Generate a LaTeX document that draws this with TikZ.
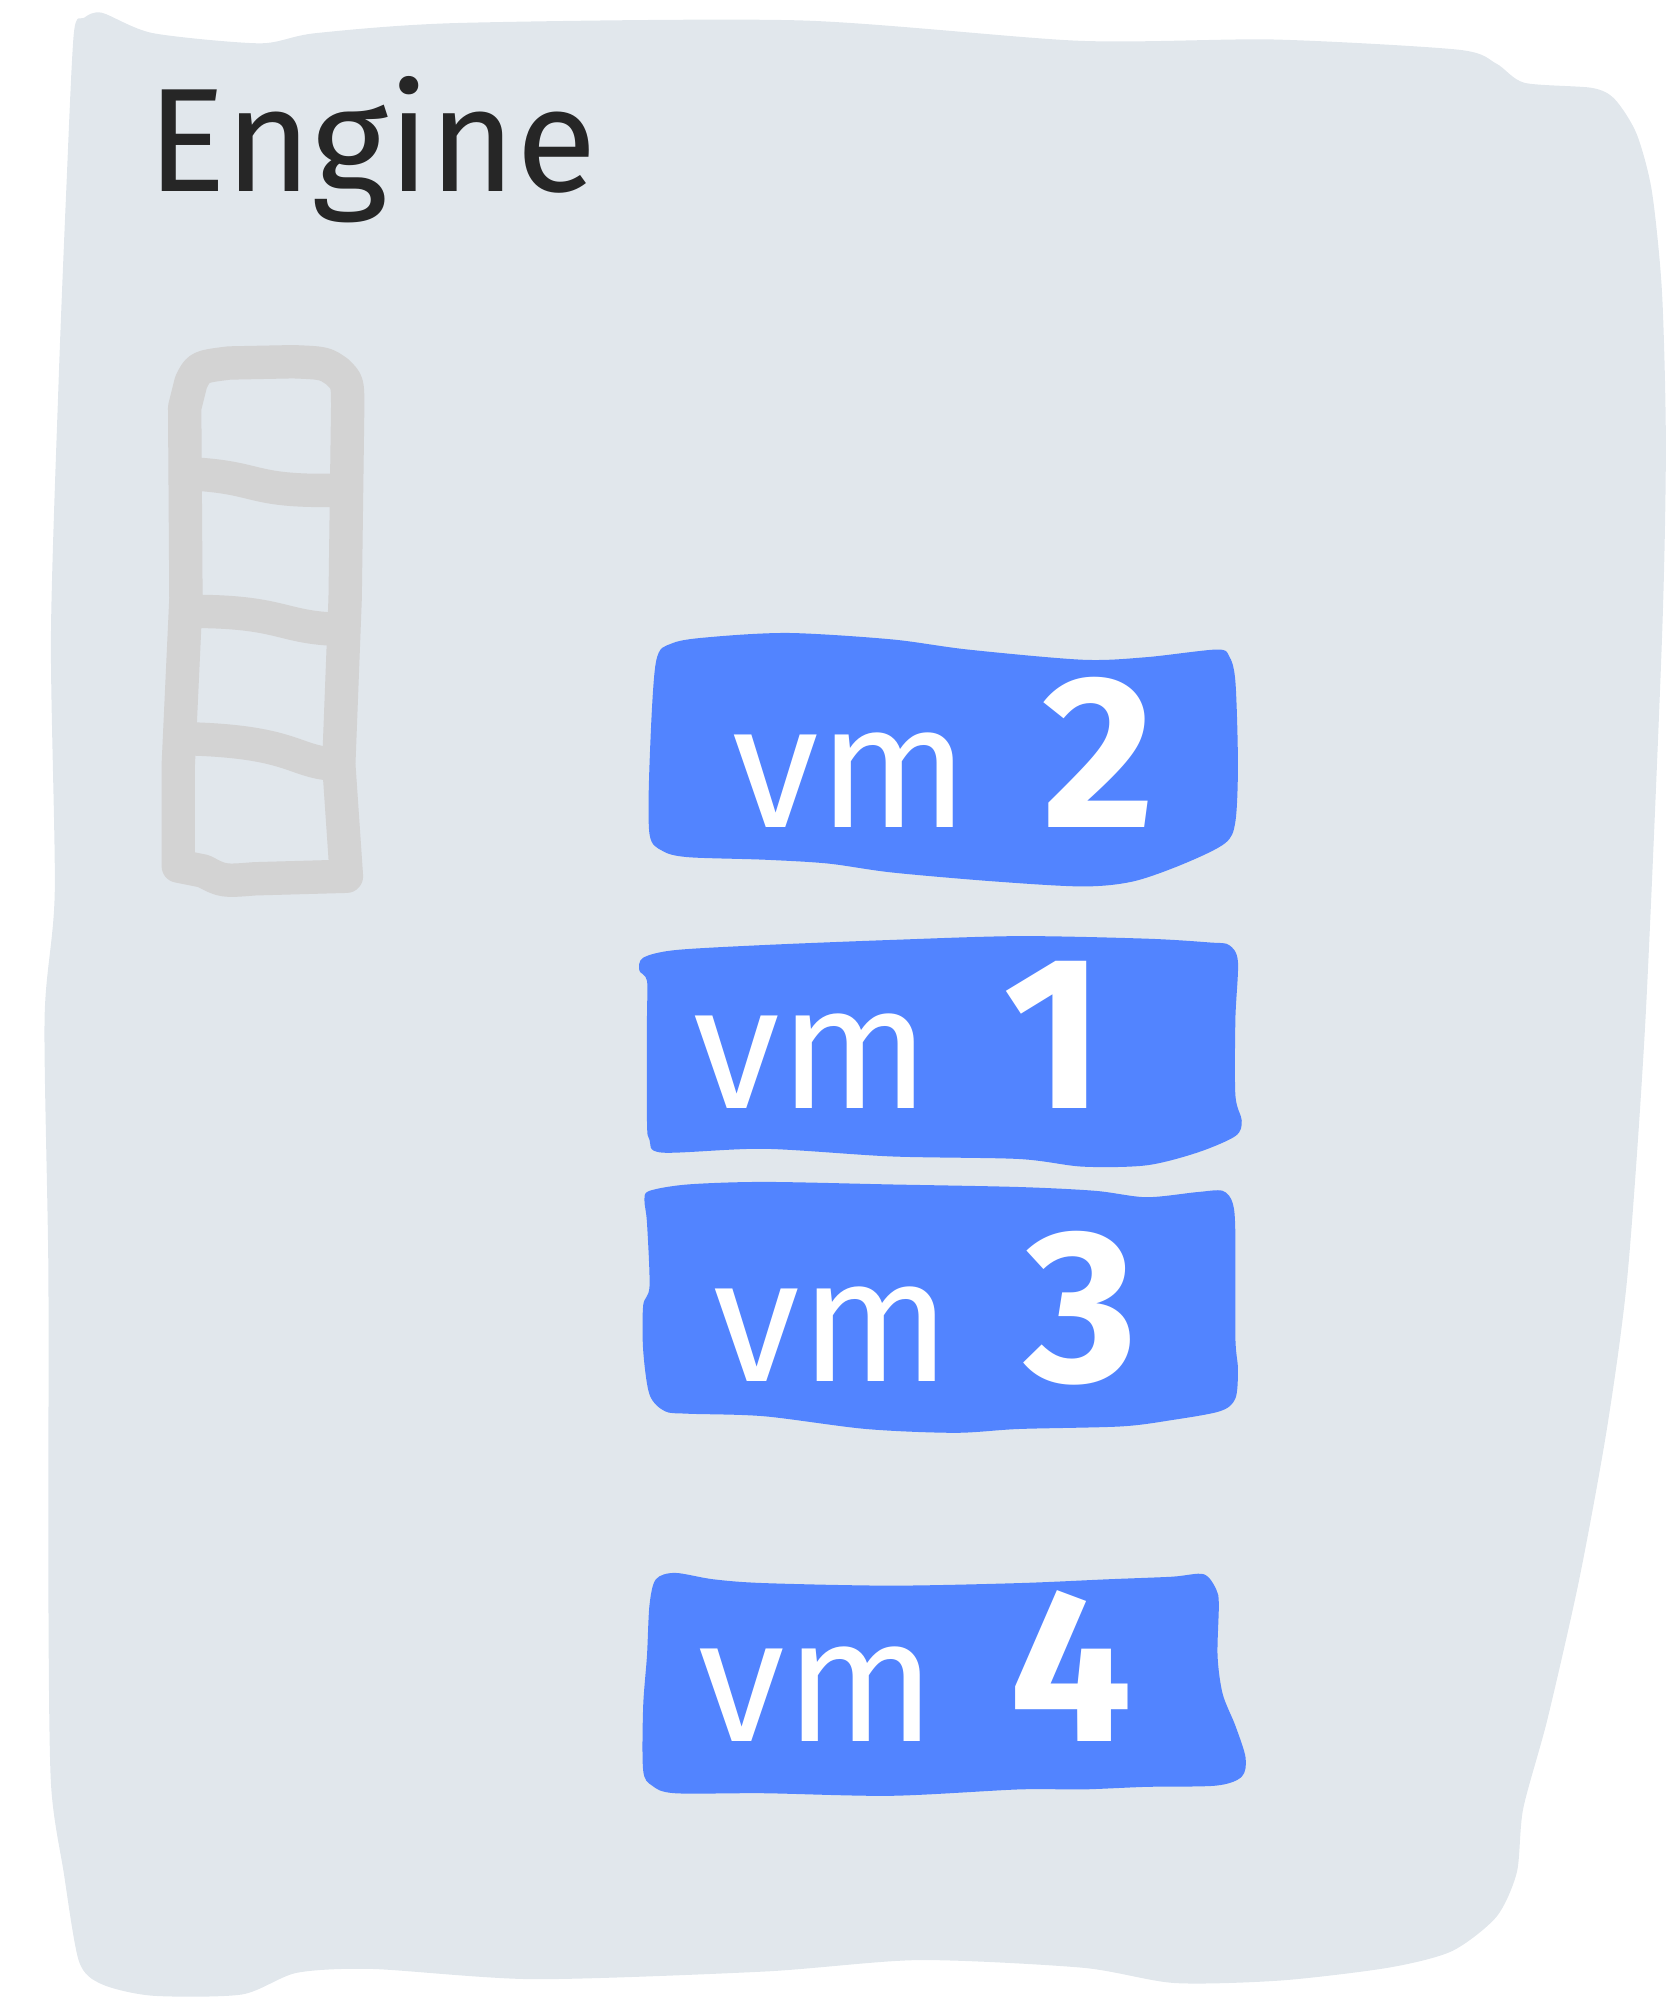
\documentclass[tikz,border=0pt]{standalone}
\usepackage{fontspec}
\setmainfont{Fira Sans}
\definecolor{panel}{HTML}{E1E7EC}
\definecolor{ladder}{HTML}{D3D3D3}
\definecolor{vmblue}{HTML}{5284FF}
\definecolor{ink}{HTML}{262626}
\tikzset{
  vmbox/.style={fill=vmblue, draw=none},
  vmtext/.style={text=white, font=\fontsize{50}{58}\selectfont, anchor=base},
  ladderline/.style={draw=ladder, line width=9.5pt, line cap=round, line join=round},
  title/.style={text=ink, font=\fontsize{42}{50}\selectfont, anchor=base west}
}
\newcommand{\vmlabel}[1]{vm\hspace{0.42em}{\fontsize{62}{70}\selectfont\bfseries #1}}
\begin{document}
\begin{tikzpicture}[x=0.012738cm, y=-0.012738cm]
\useasboundingbox (0,0) rectangle (1315,1568);
% panel
\fill[panel] plot[smooth cycle, tension=0.45] coordinates {
 (58,26) (66,14) (80,10) (120,26) (204,34) (248,26) (361,18) (628,16) (847,32) (1000,31) (1145,39) (1175,50) (1197,65) (1250,69) (1268,78) (1285,105) (1297,150) (1305,230) (1308,350) (1305,500) (1292,800) (1278,1000) (1262,1120) (1240,1240) (1215,1350) (1196,1420) (1191,1470) (1175,1505) (1140,1532) (1090,1545) (1006,1555) (922,1557) (850,1545) (721,1539) (600,1548) (419,1554) (293,1546) (233,1549) (190,1566) (120,1567) (80,1558) (62,1540) (50,1470) (40,1400) (38,1250) (38,1000) (35,800) (43,700) (40,500) (46,300) (52,150)};
% title
\node[title] (engine) at (106,150) {Engine};
% ladder
\draw[ladderline] (150,300) .. controls (156,288) .. (180,285) -- (230,284) .. controls (255,285) .. (265,292) .. controls (273,300) .. (273,320) -- (271,470) -- (266,600) -- (272,688) -- (200,690) .. controls (175,692) .. (160,684) -- (140,680) -- (140,600) -- (146,470) -- (145,320) -- cycle;
\draw[ladderline] (150,372) .. controls (205,375) and (195,386) .. (262,385);
\draw[ladderline] (150,480) .. controls (220,480) and (220,492) .. (262,494);
\draw[ladderline] (145,580) .. controls (230,582) and (230,598) .. (262,600);
% vm boxes
\fill[vmbox] plot[smooth cycle, tension=0.5] coordinates {
 (515,520) (528,505) (560,500) (620,497) (700,502) (760,510) (850,518) (900,516) (955,510) (965,515) (970,535) (972,600) (970,645) (962,662) (930,678) (890,692) (850,696) (780,692) (700,685) (650,678) (600,675) (540,673) (520,668) (510,655) (510,600)};
\node[vmtext] (vm2) at (741,650) {\vmlabel{2}};
\fill[vmbox] plot[smooth cycle, tension=0.5] coordinates {
 (505,752) (530,746) (600,742) (700,738) (800,735) (900,737) (950,740) (965,742) (972,755) (970,800) (970,860) (975,880) (970,892) (940,905) (900,915) (850,916) (800,910) (700,908) (600,902) (520,905) (510,895) (508,880) (508,800) (508,770) (502,762)};
\node[vmtext] (vm1) at (706,870) {\vmlabel{1}};
\fill[vmbox] plot[smooth cycle, tension=0.5] coordinates {
 (510,935) (540,930) (600,928) (700,930) (800,932) (860,935) (900,940) (940,936) (960,935) (968,945) (970,970) (970,1050) (972,1075) (970,1098) (958,1108) (920,1115) (880,1120) (800,1122) (750,1125) (680,1122) (600,1112) (540,1110) (522,1108) (510,1095) (505,1060) (505,1025) (510,1010) (508,960) (506,942)};
\node[vmtext] (vm3) at (727,1085) {\vmlabel{3}};
\fill[vmbox] plot[smooth cycle, tension=0.5] coordinates {
 (515,1240) (530,1235) (560,1240) (600,1243) (700,1245) (800,1243) (870,1240) (920,1238) (945,1236) (955,1248) (957,1260) (956,1300) (960,1330) (970,1355) (978,1380) (975,1395) (955,1402) (900,1403) (850,1405) (800,1405) (700,1410) (600,1408) (530,1408) (512,1402) (505,1390) (505,1340) (508,1300) (510,1260)};
\node[vmtext] (vm4) at (719,1367) {\vmlabel{4}};
\end{tikzpicture}
\end{document}
